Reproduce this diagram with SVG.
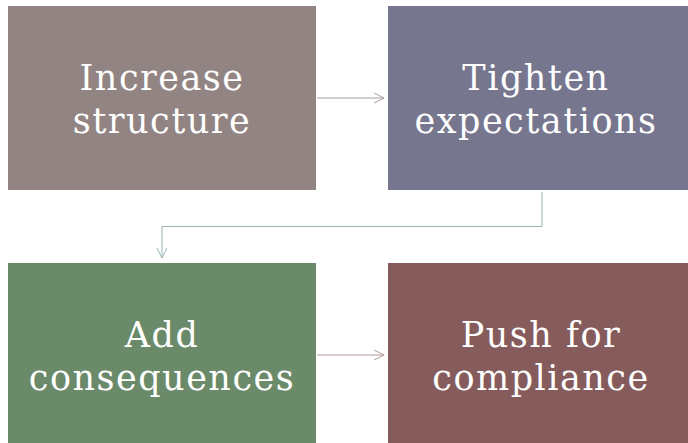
<svg xmlns="http://www.w3.org/2000/svg" width="688" height="443" viewBox="0 0 688 443">
<style>
text{font-family:"DejaVu Serif","Liberation Serif",serif;font-size:35px;letter-spacing:1.5px;fill:#fff;text-anchor:middle}
.c{fill:none;stroke-width:1}
</style>
<defs>
<marker id="a1" markerWidth="12" markerHeight="12" refX="10" refY="5" orient="auto" markerUnits="userSpaceOnUse"><path d="M0,0 L10,5 L0,10" fill="none" stroke="#a89c9b" stroke-width="1"/></marker>
<marker id="a2" markerWidth="12" markerHeight="12" refX="10" refY="5" orient="auto" markerUnits="userSpaceOnUse"><path d="M0,0 L10,5 L0,10" fill="none" stroke="#9bb3b3" stroke-width="1"/></marker>
<marker id="a3" markerWidth="12" markerHeight="12" refX="10" refY="5" orient="auto" markerUnits="userSpaceOnUse"><path d="M0,0 L10,5 L0,10" fill="none" stroke="#b89a9a" stroke-width="1"/></marker>
</defs>
<rect width="688" height="443" fill="#fff"/>
<g id="connectors">
<path class="c" d="M317,98 H384" stroke="#a89c9b" marker-end="url(#a1)"/>
<path class="c" d="M542,192 V226.5 H162 V258" stroke="#9bb3b3" marker-end="url(#a2)"/>
<path class="c" d="M317,355 H384" stroke="#b89a9a" marker-end="url(#a3)"/>
</g>
<g id="n1"><rect x="8" y="6" width="308" height="184" fill="#918482"/><text x="162" y="90">Increase</text><text x="162" y="133">structure</text></g>
<g id="n2"><rect x="388" y="6" width="300" height="184" fill="#76768e"/><text x="536" y="90">Tighten</text><text x="536" y="133">expectations</text></g>
<g id="n3"><rect x="8" y="263" width="308" height="180" fill="#6a8a69"/><text x="162" y="347">Add</text><text x="162" y="390">consequences</text></g>
<g id="n4"><rect x="388" y="263" width="300" height="180" fill="#855c5b"/><text x="541" y="347">Push for</text><text x="541" y="390">compliance</text></g>
</svg>
